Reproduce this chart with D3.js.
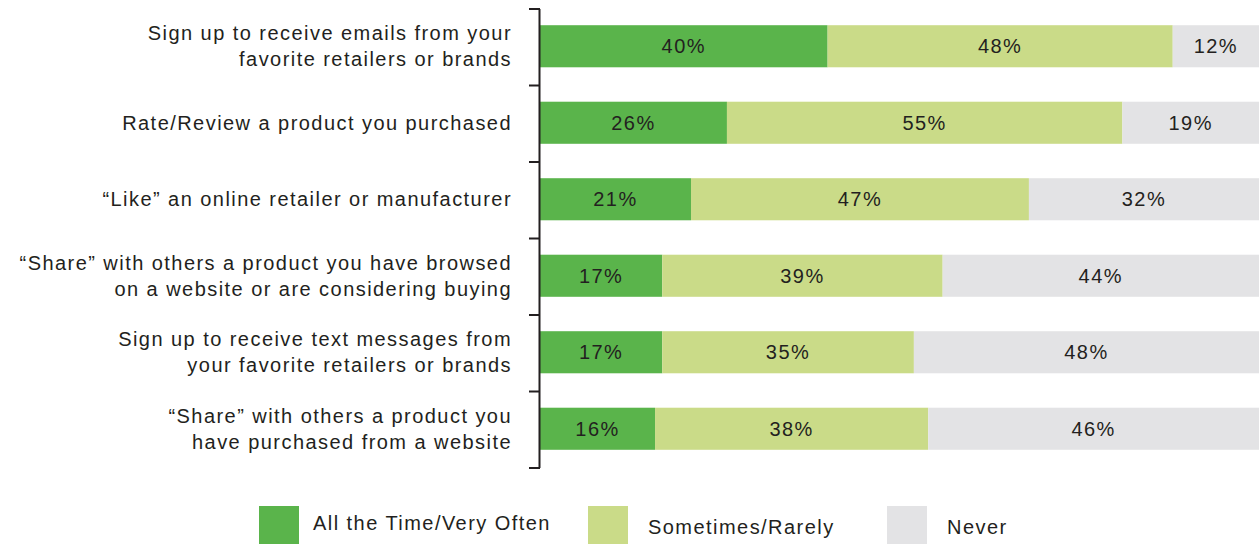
<!DOCTYPE html>
<html>
<head>
<meta charset="utf-8">
<script src="https://cdn.jsdelivr.net/npm/d3@7"></script>
<style>
  html, body { margin: 0; padding: 0; background: #fff; }
  svg { display: block; font-family: "Liberation Sans", Arial, sans-serif; }
  svg text { letter-spacing: 1.45px; }
</style>
</head>
<body>
<svg id="chart" width="1259" height="544"></svg>
<script>
// Survey items (each label split into its printed lines)
const categories = [
  ["Sign up to receive emails from your", "favorite retailers or brands"],
  ["Rate/Review a product you purchased"],
  ["\u201cLike\u201d an online retailer or manufacturer"],
  ["\u201cShare\u201d with others a product you have browsed", "on a website or are considering buying"],
  ["Sign up to receive text messages from", "your favorite retailers or brands"],
  ["\u201cShare\u201d with others a product you", "have purchased from a website"]
];
const seriesNames = ["All the Time/Very Often", "Sometimes/Rarely", "Never"];
const allTheTime = [40, 26, 21, 17, 17, 16];
const sometimes  = [48, 55, 47, 39, 35, 38];
const never      = [12, 19, 32, 44, 48, 46];
const colors = ["#5ab44b", "#cadb88", "#e3e3e5"];

const svg = d3.select("#chart");
const textColor = "#231f20";
const fontSize = 20;

const x = d3.scaleLinear().domain([0, 100]).range([540, 1259]);
const y = d3.scaleBand()
  .domain(d3.range(categories.length))
  .range([9, 468])
  .paddingInner(0.45)
  .paddingOuter(0.225);

const rows = categories.map((c, i) => ({
  i, label: c, values: [allTheTime[i], sometimes[i], never[i]]
}));

const stacked = d3.stack().keys([0, 1, 2]).value((d, k) => d.values[k])(rows);

const layers = svg.append("g").selectAll("g")
  .data(stacked)
  .join("g")
  .attr("fill", (d, k) => colors[k]);

layers.selectAll("rect")
  .data(d => d)
  .join("rect")
  .attr("x", d => x(d[0]))
  .attr("width", d => x(d[1]) - x(d[0]))
  .attr("y", d => y(d.data.i) - 1)
  .attr("height", y.bandwidth());

// Value labels centred in each segment
layers.selectAll("text")
  .data(d => d)
  .join("text")
  .attr("x", d => (x(d[0]) + x(d[1])) / 2)
  .attr("y", d => y(d.data.i) - 1 + y.bandwidth() / 2)
  .attr("dy", "0.35em")
  .attr("text-anchor", "middle")
  .attr("fill", textColor)
  .attr("font-size", fontSize)
  .text(d => Math.round(d[1] - d[0]) + "%");

// Category axis with ticks at band boundaries
const axisG = svg.append("g");
const bounds = d3.range(categories.length + 1).map(k => 9 + k * (468 - 9) / categories.length);
axisG.append("line")
  .attr("x1", 539.5).attr("x2", 539.5)
  .attr("y1", bounds[0]).attr("y2", bounds[bounds.length - 1])
  .attr("stroke", textColor).attr("stroke-width", 2);
axisG.selectAll("line.tick")
  .data(bounds)
  .join("line")
  .attr("class", "tick")
  .attr("x1", 529).attr("x2", 540)
  .attr("y1", d => d).attr("y2", d => d)
  .attr("stroke", textColor).attr("stroke-width", 2);

// Category labels
const lineH = 26;
svg.append("g").selectAll("text")
  .data(rows)
  .join("text")
  .attr("text-anchor", "end")
  .attr("fill", textColor)
  .attr("font-size", fontSize)
  .each(function(d) {
    const cy = y(d.i) + y.bandwidth() / 2 - 1;
    const n = d.label.length;
    d3.select(this).selectAll("tspan")
      .data(d.label)
      .join("tspan")
      .attr("x", 512)
      .attr("y", (t, j) => cy + (j - (n - 1) / 2) * lineH)
      .attr("dy", "0.35em")
      .text(t => t);
  });

// Legend
const legendX = [259, 588, 887];
const legend = svg.append("g").selectAll("g")
  .data(seriesNames)
  .join("g")
  .attr("transform", (d, k) => `translate(${legendX[k]},506)`);
legend.append("rect")
  .attr("width", 40).attr("height", 38)
  .attr("fill", (d, k) => colors[k]);
legend.append("text")
  .attr("x", (d, k) => k === 0 ? 54 : 60)
  .attr("y", (d, k) => k === 0 ? 17 : 21)
  .attr("dy", "0.35em")
  .attr("fill", textColor)
  .attr("font-size", fontSize)
  .text(d => d);
</script>
</body>
</html>
